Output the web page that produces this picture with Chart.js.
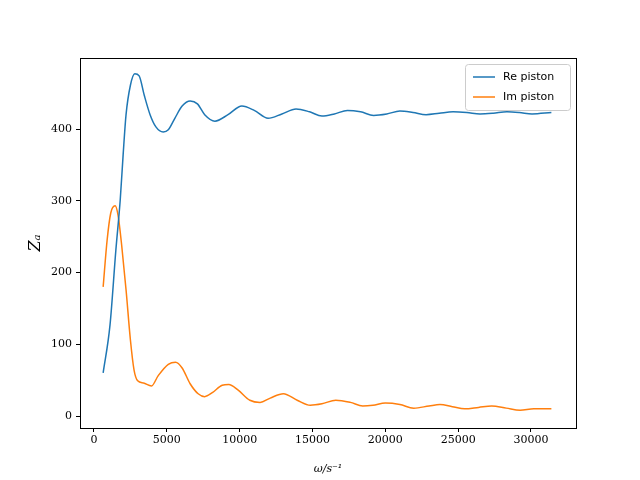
<!DOCTYPE html>
<html lang="en">
<head>
    <meta charset="UTF-8">
    <title>Z_a</title>
    <script src="https://cdn.jsdelivr.net/npm/chart.js"></script>
    <style>
        body { margin: 0; background: #fff; }
        #wrap { width: 640px; height: 480px; }
    </style>
</head>
<body>
    <div id="wrap"><canvas id="chart" width="640" height="480"></canvas></div>
    <script>
        // Re piston
        const reOmega = [628, 1100, 1500, 1800, 2000, 2200, 2500, 2800, 3100, 3450, 3850, 4250, 4750, 5100, 5550, 6050, 6600, 7100, 7600, 8300, 9200, 10150, 11000, 11950, 12900, 13870, 14800, 15650, 16500, 17400, 18300, 19200, 20100, 21000, 21900, 22800, 23700, 24650, 25600, 26500, 27400, 28350, 29200, 30070, 31400];
        const reValues = [60, 127, 231, 301, 364, 420, 461, 477, 474, 447, 420, 403, 396, 399, 415, 432, 439, 435, 420, 411, 420, 432, 426, 415, 421, 428, 424, 418, 421, 426, 424, 419, 421, 425, 423, 420, 422, 424, 423, 421, 422, 424, 423, 421, 423];
        // Im piston
        const imOmega = [628, 900, 1150, 1450, 1650, 1900, 2200, 2500, 2750, 3000, 3400, 3950, 4400, 5100, 5600, 6050, 6600, 7150, 7600, 8150, 8800, 9250, 9900, 10700, 11400, 12100, 13000, 13950, 14850, 15650, 16600, 17600, 18450, 19150, 20000, 21000, 21950, 23000, 23750, 24600, 25450, 26400, 27300, 28300, 29250, 30200, 31400];
        const imValues = [180, 245, 283, 293, 280, 238, 176, 106, 64, 49, 46, 42, 56, 72, 75, 67, 45, 31, 27, 33, 43, 44, 36, 22, 19, 25, 31, 22, 15, 17, 22, 19, 14, 15, 18, 16, 11, 14, 16, 13, 10, 12, 14, 11, 8, 10, 10];
        const xTicks = [0, 5000, 10000, 15000, 20000, 25000, 30000];
        const yTicks = [0, 100, 200, 300, 400];

        const serif = '"DejaVu Serif", "Liberation Serif", serif';

        const frame = {
            id: 'frame',
            afterDraw(chart) {
                const c = chart.ctx, a = chart.chartArea;
                c.save();
                c.strokeStyle = '#000';
                c.lineWidth = 1;
                c.strokeRect(a.left + 0.5, a.top + 0.5, a.right - a.left, a.bottom - a.top);
                // legend
                const lx = a.right - 111, ly = a.top + 6, lw = 105, lh = 46;
                c.fillStyle = 'rgba(255,255,255,0.8)';
                c.strokeStyle = '#ccc';
                c.beginPath();
                c.roundRect(lx + 0.5, ly + 0.5, lw, lh, 3);
                c.fill();
                c.stroke();
                const items = [['Re piston', '#1f77b4'], ['Im piston', '#ff7f0e']];
                c.font = '11px "DejaVu Sans", sans-serif';
                c.textBaseline = 'middle';
                items.forEach((it, i) => {
                    const y = ly + 13 + i * 20;
                    c.strokeStyle = it[1];
                    c.lineWidth = 1.5;
                    c.beginPath();
                    c.moveTo(lx + 8, y);
                    c.lineTo(lx + 30, y);
                    c.stroke();
                    c.fillStyle = '#000';
                    c.fillText(it[0], lx + 38, y);
                });
                c.restore();
            }
        };

        new Chart(document.getElementById('chart'), {
            type: 'line',
            data: {
                datasets: [{
                    label: 'Re piston',
                    data: reOmega.map((w, i) => ({ x: w, y: reValues[i] })),
                    borderColor: '#1f77b4',
                    borderWidth: 1.5,
                    pointRadius: 0,
                    cubicInterpolationMode: 'monotone'
                }, {
                    label: 'Im piston',
                    data: imOmega.map((w, i) => ({ x: w, y: imValues[i] })),
                    borderColor: '#ff7f0e',
                    borderWidth: 1.5,
                    pointRadius: 0,
                    cubicInterpolationMode: 'monotone'
                }]
            },
            options: {
                responsive: false,
                animation: false,
                layout: { padding: { left: 26, top: 58, right: 64, bottom: 0 } },
                plugins: { legend: { display: false }, tooltip: { enabled: false } },
                scales: {
                    x: {
                        type: 'linear',
                        min: -961,
                        max: 33090,
                        afterBuildTicks: s => { s.ticks = xTicks.map(v => ({ value: v })); },
                        afterFit: s => { s.height = 52; },
                        grid: { drawOnChartArea: false, color: '#000', tickLength: 4 },
                        border: { display: false },
                        ticks: { color: '#000', font: { family: serif, size: 11 }, maxRotation: 0, padding: 2, callback: v => String(v) },
                        title: { display: true, text: 'ω/s⁻¹', color: '#000', font: { family: serif, size: 11, style: 'italic' }, padding: { top: 0 } }
                    },
                    y: {
                        min: -16.7,
                        max: 499,
                        afterBuildTicks: s => { s.ticks = yTicks.map(v => ({ value: v })); },
                        afterFit: s => { s.width = 54; },
                        grid: { drawOnChartArea: false, color: '#000', tickLength: 4 },
                        border: { display: false },
                        ticks: { color: '#000', font: { family: serif, size: 11 }, padding: 4 },
                        title: { display: true, text: 'Zₐ', color: '#000', font: { family: serif, size: 16, style: 'italic' }, padding: 0 }
                    }
                }
            },
            plugins: [frame]
        });
    </script>
</body>
</html>
